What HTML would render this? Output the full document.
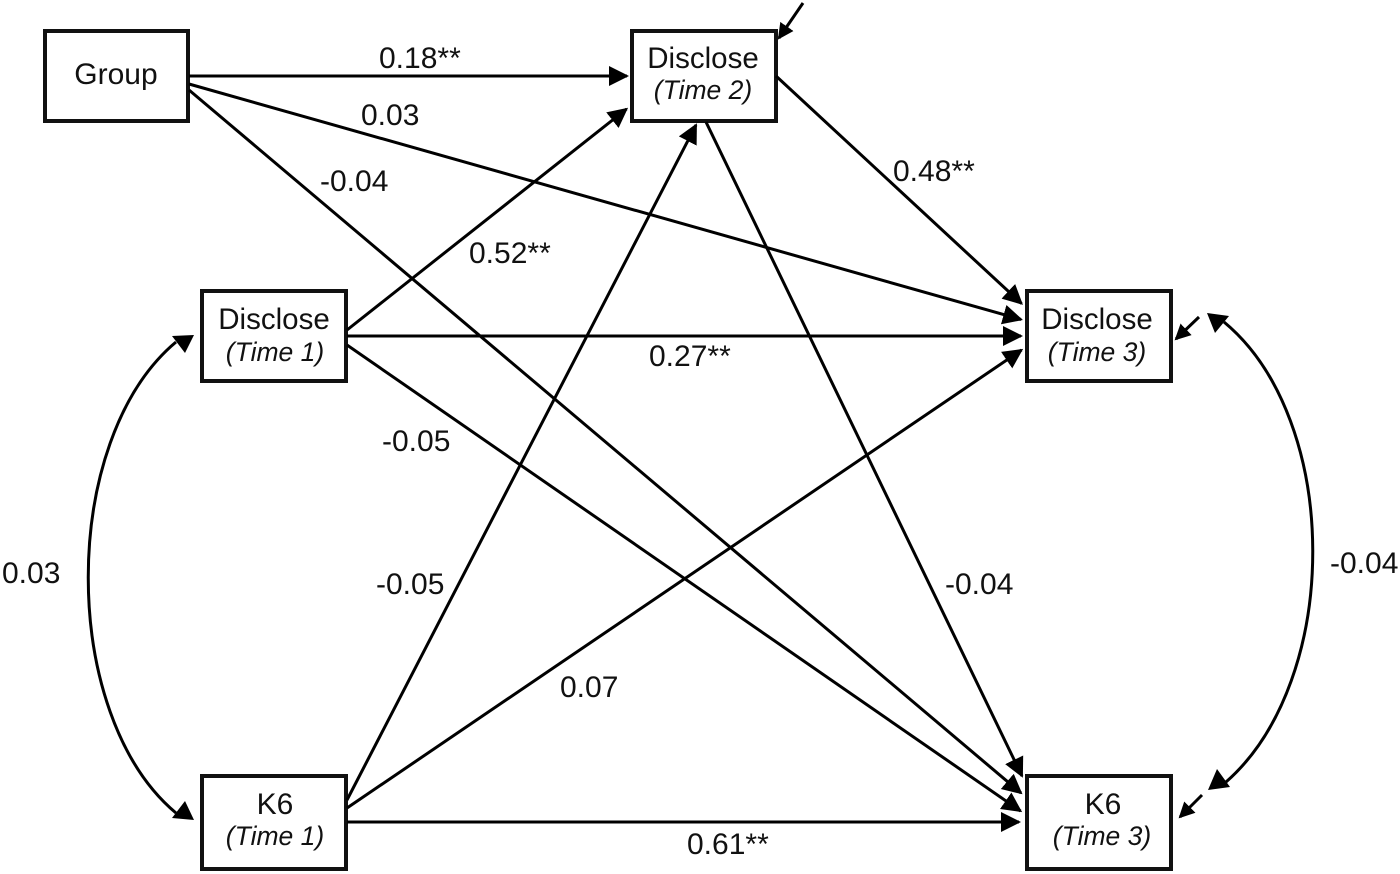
<!DOCTYPE html>
<html>
<head>
<meta charset="utf-8">
<style>
html,body{margin:0;padding:0;background:#fff;width:1400px;height:874px;overflow:hidden}
svg{display:block}
text{font-family:"Liberation Sans",Arial,sans-serif;font-size:30px;fill:#111}
.n{font-size:29.5px}
.i{font-style:italic;font-size:26.5px}
.m{text-anchor:middle}
.b{fill:#fff;stroke:#111;stroke-width:4}
.l{fill:none;stroke:#000;stroke-width:3;marker-end:url(#a)}
.s{fill:none;stroke:#000;stroke-width:3;marker-end:url(#s)}
</style>
</head>
<body>
<svg width="1400" height="874" viewBox="0 0 1400 874" xmlns="http://www.w3.org/2000/svg">
<defs>
<marker id="a" markerUnits="userSpaceOnUse" markerWidth="24" markerHeight="24" refX="18" refY="10" orient="auto"><path d="M0 0L20 10L0 20Z" fill="#000"/></marker>
<marker id="s" markerUnits="userSpaceOnUse" markerWidth="20" markerHeight="20" refX="14" refY="8" orient="auto"><path d="M0 0L16 8L0 16Z" fill="#000"/></marker>
</defs>

<rect class="b" x="45" y="31" width="143" height="90"/>
<rect class="b" x="632" y="31" width="144" height="90"/>
<rect class="b" x="202" y="291" width="144" height="90"/>
<rect class="b" x="1027" y="291" width="144" height="90"/>
<rect class="b" x="202" y="776" width="144" height="93"/>
<rect class="b" x="1027" y="776" width="144" height="93"/>

<line class="l" x1="189" y1="76" x2="627" y2="76"/>
<line class="l" x1="189" y1="84" x2="1021" y2="319.500"/>
<line class="l" x1="189" y1="90" x2="1021" y2="793"/>
<line class="l" x1="347" y1="330" x2="626.500" y2="109"/>
<line class="l" x1="347" y1="336" x2="1021" y2="336"/>
<line class="l" x1="347" y1="345" x2="1020.500" y2="811"/>
<line class="l" x1="347" y1="800" x2="696" y2="125"/>
<line class="l" x1="347" y1="808" x2="1021.500" y2="350"/>
<line class="l" x1="347" y1="822" x2="1019" y2="822"/>
<line class="l" x1="776" y1="76" x2="1021.500" y2="303.500"/>
<line class="l" x1="706" y1="122" x2="1022" y2="776"/>

<line class="s" x1="803" y1="3" x2="779" y2="38"/>
<line class="s" x1="1199" y1="317" x2="1176" y2="339"/>
<line class="s" x1="1202" y1="795" x2="1180" y2="817"/>

<path class="l" d="M176 342C59 440 59 715 176 813" style="marker-end:none"/>
<path d="M194 335L172 336L185 353Z" fill="#000"/>
<path d="M194 820L172 818L185 801Z" fill="#000"/>
<path class="l" d="M1224 322C1342 420 1342 680 1226 782" style="marker-end:none"/>
<path d="M1207 313L1229 316L1215 333Z" fill="#000"/>
<path d="M1208 790L1230 787L1217 769Z" fill="#000"/>

<text class="m" x="116" y="84">Group</text>
<text class="m n" x="703" y="68">Disclose</text>
<text class="m i" x="703" y="99">(Time 2)</text>
<text class="m n" x="274" y="329">Disclose</text>
<text class="m i" x="275" y="361">(Time 1)</text>
<text class="m n" x="1097" y="329">Disclose</text>
<text class="m i" x="1097" y="361">(Time 3)</text>
<text class="m" x="275" y="814">K6</text>
<text class="m i" x="275" y="845">(Time 1)</text>
<text class="m" x="1103" y="814">K6</text>
<text class="m i" x="1102" y="845">(Time 3)</text>

<text x="379" y="68">0.18**</text>
<text x="361" y="125">0.03</text>
<text x="320" y="191">-0.04</text>
<text x="469" y="263">0.52**</text>
<text x="893" y="181">0.48**</text>
<text x="649" y="366">0.27**</text>
<text x="382" y="451">-0.05</text>
<text x="376" y="594">-0.05</text>
<text x="945" y="594">-0.04</text>
<text x="560" y="697">0.07</text>
<text x="687" y="854">0.61**</text>
<text x="2" y="583">0.03</text>
<text x="1330" y="573">-0.04</text>
</svg>
</body>
</html>
